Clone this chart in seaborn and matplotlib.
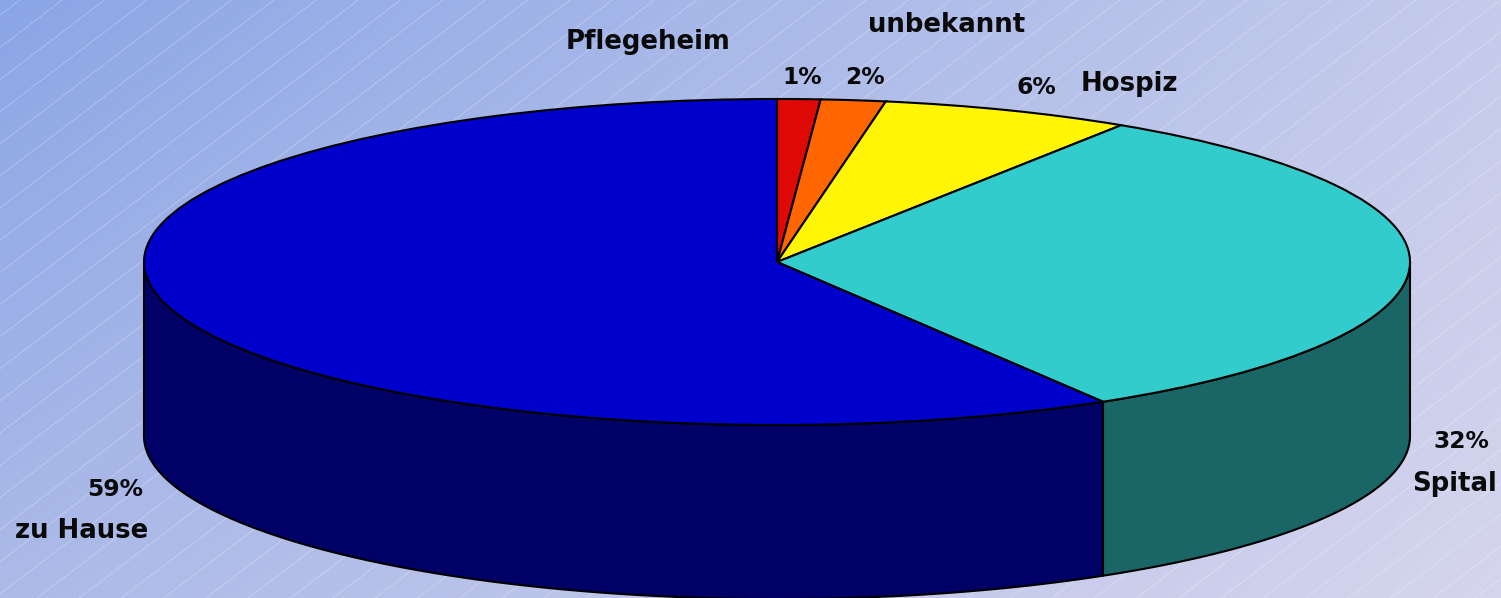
import numpy as np
import matplotlib
matplotlib.use('Agg')
import matplotlib.pyplot as plt
import seaborn as sns

# Data
labels = ['Pflegeheim', 'unbekannt', 'Hospiz', 'Spital', 'zu Hause']
shares = [1.1, 1.65, 6.4, 32.24, 58.61]
pct_labels = ['1%', '2%', '6%', '32%', '59%']
top_colors = ['#DF0A05', '#FF6600', '#FFF505', '#33CCCC', '#0000CC']
wall_colors = ['#6F0502', '#803300', '#807A02', '#1A6666', '#000066']

# Background corner colours (top row, bottom row)
bg_corners = np.array([[(139, 166, 230), (197, 203, 235)],
                       [(172, 186, 232), (213, 213, 237)]], dtype=float) / 255

W, H = 1501, 598
CX, CY, RX, RY, DEPTH = 777, 262, 633, 163, 174

sns.set_theme(style='white')
plt.rcParams['font.family'] = ['DejaVu Sans']
palette = sns.color_palette(top_colors)

fig = plt.figure(figsize=(W / 100, H / 100), dpi=100)

# background gradient with thin diagonal stripes, in pixel coordinates
bg = fig.add_axes([0, 0, 1, 1])
u = np.linspace(0, 1, 300)[None, :, None]
v = np.linspace(0, 1, 120)[:, None, None]
grad = ((1 - v) * (1 - u) * bg_corners[0, 0] + (1 - v) * u * bg_corners[0, 1]
        + v * (1 - u) * bg_corners[1, 0] + v * u * bg_corners[1, 1])
bg.imshow(grad, extent=(0, W, H, 0), interpolation='bilinear', aspect='auto')
for x0 in np.arange(20, W + 900, 42.3):
    bg.plot([x0, x0 - 1000], [0, 760], color='white', lw=0.5, alpha=0.35)
bg.set_xlim(0, W)
bg.set_ylim(H, 0)
bg.axis('off')

# pie axes, unit circle squashed by the axis scales
ax = fig.add_axes([0, 0, 1, 1], facecolor='none')
xlim = (-CX / RX, (W - CX) / RX)
ylim = (-(H - CY) / RY, CY / RY)
depth = DEPTH / RY

# side wall from the cumulative shares, only the front half shows
edges = np.cumsum([0] + shares) / sum(shares) * 360
for i in range(len(shares)):
    a0 = max(edges[i], 90)
    a1 = min(edges[i + 1], 270)
    if a1 <= a0:
        continue
    t = np.radians(np.linspace(a0, a1, 200))
    xs = np.sin(t)
    ys = np.cos(t)
    ax.fill(np.r_[xs, xs[::-1]], np.r_[ys, ys[::-1] - depth],
            facecolor=wall_colors[i], edgecolor='black', lw=1.5, zorder=1, joinstyle='round')

ax.pie(shares, colors=palette, startangle=90, counterclock=False, radius=1,
       wedgeprops=dict(edgecolor='black', linewidth=1.5, zorder=2))
ax.set_aspect('auto')
ax.set_xlim(xlim)
ax.set_ylim(ylim)
ax.axis('off')

# text in pixel coordinates
name_pos = [(648, 42), (947, 25), (1129, 84), (1454, 484), (82, 531)]
pct_pos = [(802, 78), (865, 78), (1036, 88), (1461, 441), (115, 489)]
for name, (x, y) in zip(labels, name_pos):
    bg.text(x, y, name, fontsize=18.7, fontweight='bold', color='#0A0A0A',
            ha='center', va='center', zorder=5)
for pct, (x, y) in zip(pct_labels, pct_pos):
    bg.text(x, y, pct, fontsize=16.8, fontweight='bold', color='#0A0A0A',
            ha='center', va='center', zorder=5)
bg.set_zorder(0)
ax.set_zorder(1)

fig.savefig('out.png', dpi=100)
